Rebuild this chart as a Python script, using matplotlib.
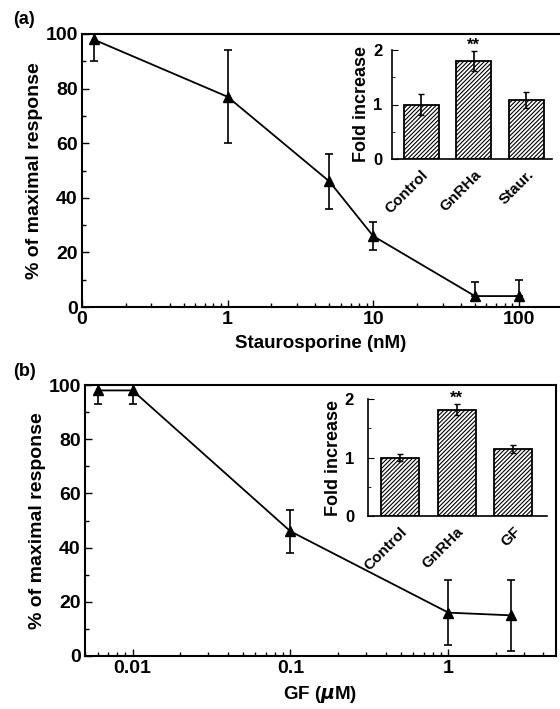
import matplotlib
matplotlib.use("Agg")
import matplotlib.pyplot as plt
from matplotlib.ticker import LogLocator, MultipleLocator, NullFormatter, FixedLocator, FixedFormatter

plt.rcParams['font.family'] = ['Liberation Sans', 'DejaVu Sans']
plt.rcParams['font.weight'] = 'bold'
plt.rcParams['axes.labelweight'] = 'bold'
plt.rcParams['hatch.linewidth'] = 0.8

# Panel (a) data
stau_conc = [0.12, 1, 5, 10, 50, 100]
stau_resp = [98, 77, 46, 26, 4, 4]
stau_err_lo = [8, 17, 10, 5, 0, 0]
stau_err_hi = [8, 17, 10, 5, 5, 6]
inset_a_labels = ['Control', 'GnRHa', 'Staur.']
inset_a_vals = [1.0, 1.8, 1.08]
inset_a_err = [0.19, 0.18, 0.15]

# Panel (b) data
gf_conc = [0.006, 0.01, 0.1, 1, 2.5]
gf_resp = [98, 98, 46, 16, 15]
gf_err = [5, 5, 8, 12, 13]
inset_b_labels = ['Control', 'GnRHa', 'GF']
inset_b_vals = [1.0, 1.82, 1.15]
inset_b_err = [0.06, 0.1, 0.07]

fig = plt.figure(figsize=(5.6, 7.09), dpi=100)

TICK = 14
LAB = 13.5
YLAB = 14

def style_main(ax):
    ax.set_ylim(0, 100)
    ax.yaxis.set_major_locator(MultipleLocator(20))
    ax.yaxis.set_minor_locator(MultipleLocator(10))
    ax.tick_params(which='both', direction='in', labelsize=TICK, width=1)
    ax.tick_params(which='major', length=5, pad=3)
    ax.tick_params(which='minor', length=3)
    for s in ax.spines.values():
        s.set_linewidth(1.5)
    for lab in ax.get_xticklabels() + ax.get_yticklabels():
        lab.set_fontweight('bold')
    ax.set_ylabel('% of maximal response', fontsize=YLAB, fontweight='bold', labelpad=2)

def style_inset(ax, labels, ypad):
    ax.set_ylim(0, 2)
    ax.set_xticks(list(range(len(labels))))
    ax.set_xticklabels(labels, rotation=45, ha='right', rotation_mode='anchor', fontsize=11, fontweight='bold')
    ax.tick_params(axis='x', length=0, pad=6)
    ax.yaxis.set_major_locator(MultipleLocator(1))
    ax.yaxis.set_minor_locator(MultipleLocator(0.5))
    ax.tick_params(axis='y', which='both', direction='in', labelsize=12, pad=ypad)
    ax.tick_params(axis='y', which='major', length=4)
    ax.tick_params(axis='y', which='minor', length=2)
    for lab in ax.get_yticklabels():
        lab.set_fontweight('bold')
    ax.set_ylabel('Fold increase', fontsize=13, fontweight='bold', labelpad=2)
    ax.spines['top'].set_visible(False)
    ax.spines['right'].set_visible(False)
    for s in ('left', 'bottom'):
        ax.spines[s].set_linewidth(1.2)
    ax.patch.set_alpha(0)

# ---- Panel (a)
axa = fig.add_axes([82/560, 1-307/709, 478/560, 273/709])
axa.set_xscale('log')
axa.set_xlim(0.1, 192)
axa.errorbar(stau_conc, stau_resp, yerr=[stau_err_lo, stau_err_hi], color='black',
             marker='^', markersize=7, lw=1.3, elinewidth=1.2, capsize=3, capthick=1.2)
axa.xaxis.set_major_locator(FixedLocator([0.1, 1, 10, 100]))
axa.xaxis.set_major_formatter(FixedFormatter(['0', '1', '10', '100']))
axa.xaxis.set_minor_locator(LogLocator(base=10, subs=range(2, 10), numticks=20))
axa.xaxis.set_minor_formatter(NullFormatter())
style_main(axa)
axa.spines['right'].set_visible(False)
axa.set_xlabel('Staurosporine (nM)', fontsize=LAB, fontweight='bold', labelpad=5)
fig.text(13/560, 1-19/709, '(a)', fontsize=13, fontweight='bold', va='center')

# Inset (a)
ia = fig.add_axes([392/560, 1-159/709, 160/560, 109/709])
xa = list(range(len(inset_a_labels)))
ia.bar(xa, inset_a_vals, width=0.67, color='white', edgecolor='black', hatch='////////', lw=1.3)
ia.errorbar(xa, inset_a_vals, yerr=inset_a_err, fmt='none', ecolor='black', elinewidth=1.2, capsize=2)
ia.text(1, inset_a_vals[1] + inset_a_err[1] - 0.03, '**', ha='center', va='bottom', fontsize=12, fontweight='bold')
ia.set_xlim(-0.56, 2.49)
style_inset(ia, inset_a_labels, 7)

# ---- Panel (b)
axb = fig.add_axes([85/560, 1-656/709, 471/560, 271/709])
axb.set_xscale('log')
axb.set_xlim(0.005, 4.8)
axb.errorbar(gf_conc, gf_resp, yerr=gf_err, color='black',
             marker='^', markersize=7, lw=1.3, elinewidth=1.2, capsize=3, capthick=1.2)
axb.xaxis.set_major_locator(FixedLocator([0.01, 0.1, 1]))
axb.xaxis.set_major_formatter(FixedFormatter(['0.01', '0.1', '1']))
axb.xaxis.set_minor_locator(LogLocator(base=10, subs=range(2, 10), numticks=20))
axb.xaxis.set_minor_formatter(NullFormatter())
style_main(axb)
axb.set_xlabel('GF ($\\mu$M)', fontsize=LAB, fontweight='bold', labelpad=5)
fig.text(13/560, 1-372/709, '(b)', fontsize=13, fontweight='bold', va='center')

# Inset (b)
ib = fig.add_axes([368/560, 1-516/709, 179/560, 117/709])
xb = list(range(len(inset_b_labels)))
ib.bar(xb, inset_b_vals, width=0.67, color='white', edgecolor='black', hatch='////////', lw=1.3)
ib.errorbar(xb, inset_b_vals, yerr=inset_b_err, fmt='none', ecolor='black', elinewidth=1.2, capsize=2)
ib.text(1, inset_b_vals[1] + inset_b_err[1] - 0.04, '**', ha='center', va='bottom', fontsize=12, fontweight='bold')
ib.set_xlim(-0.57, 2.6)
style_inset(ib, inset_b_labels, 10)

fig.savefig('out.png', dpi=100)
